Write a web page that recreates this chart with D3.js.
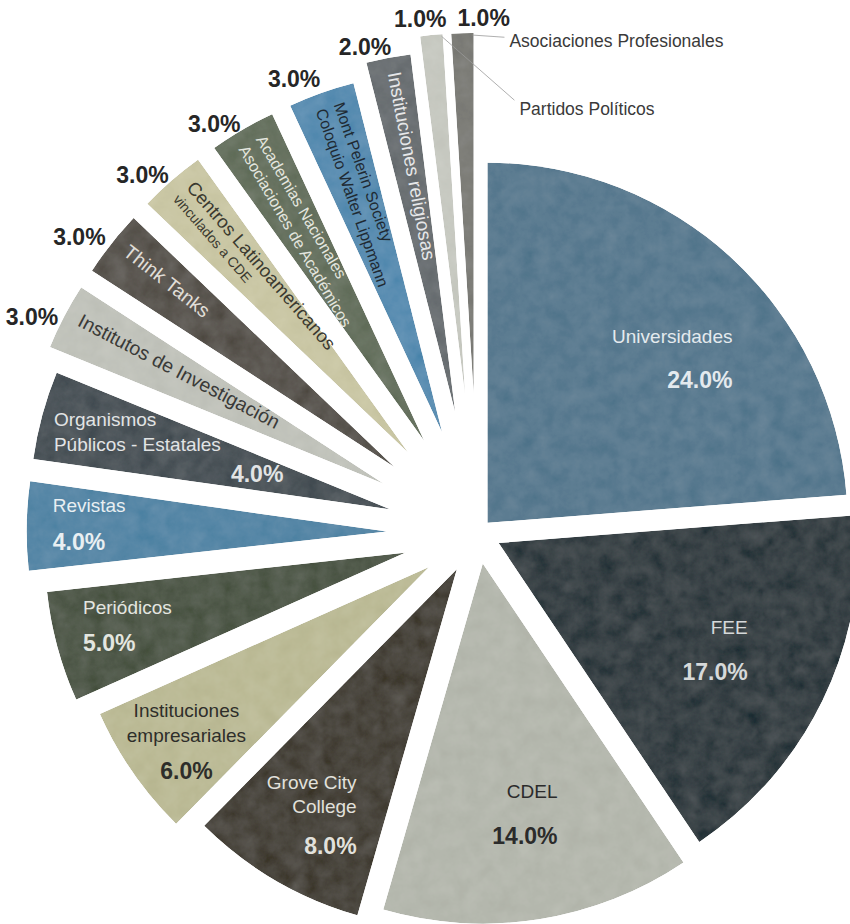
<!DOCTYPE html>
<html>
<head>
<meta charset="utf-8">
<script src="https://cdn.jsdelivr.net/npm/d3@7"></script>
<style>
  body { margin: 0; background: #fff; }
  svg { display: block; font-family: "Liberation Sans", Arial, Helvetica, sans-serif; }
</style>
</head>
<body>
<div id="chart"></div>
<script>
// data, clockwise from 12 o'clock
const categories = ["Universidades", "FEE", "CDEL", "Grove City College", "Instituciones empresariales",
  "Periódicos", "Revistas", "Organismos Públicos - Estatales", "Institutos de Investigación", "Think Tanks",
  "Centros Latinoamericanos vinculados a CDE", "Academias Nacionales Asociaciones de Académicos",
  "Mont Pelerin Society Coloquio Walter Lippmann", "Instituciones religiosas", "Partidos Políticos",
  "Asociaciones Profesionales"];
const values = [24, 17, 14, 8, 6, 5, 4, 4, 3, 3, 3, 3, 3, 2, 1, 1];
const labelLines = [["Universidades"], ["FEE"], ["CDEL"], ["Grove City", "College"], ["Instituciones", "empresariales"],
  ["Periódicos"], ["Revistas"], ["Organismos", "Públicos - Estatales"], ["Institutos de Investigación"], ["Think Tanks"],
  ["Centros Latinoamericanos", "vinculados a CDE"], ["Academias Nacionales", "Asociaciones de Académicos"],
  ["Mont Pelerin Society", "Coloquio Walter Lippmann"], ["Instituciones religiosas"], ["Partidos Políticos"],
  ["Asociaciones Profesionales"]];

const palette = ["#5c7c91", "#3a4347", "#b5b8ae", "#4b473f", "#bcbb97", "#525b4c", "#5888a7", "#4e565b",
  "#c1c3bb", "#5c5852", "#cac7a5", "#687361", "#5b8eb2", "#6c7174", "#c7c9c1", "#7d7d78"];
const textFill = ["#e4eaee", "#d6d9da", "#2b2b2b", "#e2e1dc", "#2e2e2a", "#e4e6e0", "#e9eff2", "#e2e4e5",
  "#3a3a38", "#e0ded8", "#3a392f", "#e4e6df", "#1f2a33", "#e6e7e8", "#333", "#333"];

const width = 850, height = 924;
const cx = 478, cy = 533, R = 360;

// small slices are pushed further out from the centre
const explode = d3.scaleLinear()
  .domain([1, 3, 6, 8, 14, 17, 24])
  .range([140, 107, 60, 42, 31, 23, 14]);

const svg = d3.select("#chart").append("svg")
  .attr("width", width)
  .attr("height", height);

// light concrete-like grain
const defs = svg.append("defs");
const f = defs.append("filter").attr("id", "tex")
  .attr("x", "-2%").attr("y", "-2%").attr("width", "104%").attr("height", "104%");
f.append("feTurbulence").attr("type", "fractalNoise").attr("baseFrequency", 0.06)
  .attr("numOctaves", 4).attr("seed", 11).attr("result", "noise");
f.append("feColorMatrix").attr("in", "noise").attr("type", "matrix")
  .attr("values", "0.33 0.33 0.33 0 0  0.33 0.33 0.33 0 0  0.33 0.33 0.33 0 0  0 0 0 0 1")
  .attr("result", "gray");
f.append("feComposite").attr("in", "SourceGraphic").attr("in2", "gray").attr("operator", "arithmetic")
  .attr("k1", 0).attr("k2", 1).attr("k3", 0.13).attr("k4", -0.065).attr("result", "mix");
f.append("feComposite").attr("in", "mix").attr("in2", "SourceAlpha").attr("operator", "in");

const rows = categories.map((c, i) => ({ name: c, value: values[i], lines: labelLines[i], i }));
const arcs = d3.pie().sort(null).value(d => d.value)(rows);
const arc = d3.arc().innerRadius(0).outerRadius(R);

arcs.forEach(a => {
  a.mid = (a.startAngle + a.endAngle) / 2;
  a.dir = [Math.sin(a.mid), -Math.cos(a.mid)];
  const d = explode(a.data.value);
  a.tip = [cx + d * a.dir[0], cy + d * a.dir[1]];
  a.outer = [a.tip[0] + R * a.dir[0], a.tip[1] + R * a.dir[1]];
});

svg.append("g")
  .selectAll("path")
  .data(arcs)
  .join("path")
  .attr("transform", a => `translate(${a.tip[0]},${a.tip[1]})`)
  .attr("d", arc)
  .attr("fill", (a, i) => palette[i])
  .attr("filter", "url(#tex)");

const fmt = v => v.toFixed(1) + "%";

// horizontal labels inside the big slices
const innerLayout = [
  { r: 240, dx: 82, dy: -10, anchor: "end", gap: 24, pgap: 43 },
  { r: 240, dx: 33, dy: -20, anchor: "end", gap: 24, pgap: 44 },
  { r: 250, dx: 36, dy: -19, anchor: "end", gap: 24, pgap: 44 },
  { r: 270, dx: 36, dy: -20, anchor: "end", gap: 24, pgap: 40 },
  { r: 290, dx: -4, dy: -22, anchor: "middle", gap: 25, pgap: 35 },
  { r: 290, dx: -42, dy: -21, anchor: "start", gap: 24, pgap: 35 },
  { r: 300, dx: -34, dy: -21, anchor: "start", gap: 24, pgap: 36 },
  { r: 290, dx: -56, dy: -14, anchor: "start", gap: 25, pgap: 30, pdx: 177 }
];

const inner = svg.append("g");
innerLayout.forEach((L, i) => {
  const a = arcs[i];
  const x = a.tip[0] + L.r * a.dir[0] + L.dx;
  const y0 = a.tip[1] + L.r * a.dir[1] + L.dy;
  a.data.lines.forEach((t, k) => {
    inner.append("text")
      .attr("x", x).attr("y", y0 + k * L.gap)
      .attr("text-anchor", L.anchor)
      .attr("dominant-baseline", "central")
      .attr("font-size", 19)
      .attr("fill", textFill[i])
      .text(t);
  });
  inner.append("text")
    .attr("x", x + (L.pdx || 0))
    .attr("y", y0 + (a.data.lines.length - 1) * L.gap + L.pgap)
    .attr("text-anchor", L.anchor)
    .attr("dominant-baseline", "central")
    .attr("font-size", 23)
    .attr("font-weight", "bold")
    .attr("fill", textFill[i])
    .text(fmt(a.data.value));
});

// rotated labels along the thin slices
const rotLayout = {
  8: { sizes: [19.5], off: [-5] },
  9: { sizes: [19.5], off: [-5] },
  10: { sizes: [18.5, 14], off: [-12, 7] },
  11: { sizes: [16, 16], off: [-12, 8] },
  12: { sizes: [16, 16], off: [-13, 6] },
  13: { sizes: [19], off: [-3] }
};
const rot = svg.append("g");
Object.keys(rotLayout).forEach(k => {
  const i = +k, a = arcs[i], L = rotLayout[k];
  const p = [a.tip[0] + 345 * a.dir[0], a.tip[1] + 345 * a.dir[1]];
  const deg = a.mid * 180 / Math.PI - 270;
  const g = rot.append("g").attr("transform", `translate(${p[0]},${p[1]}) rotate(${deg})`);
  a.data.lines.forEach((t, j) => {
    g.append("text")
      .attr("x", 0).attr("y", L.off[j])
      .attr("dominant-baseline", "central")
      .attr("font-size", L.sizes[j])
      .attr("fill", textFill[i])
      .text(t);
  });
});

// percentages outside the thin slices
const outerLayout = {
  8: { dx: -6, dy: 1 }, 9: { dx: -6, dy: -6 }, 10: { dx: -3, dy: -5 }, 11: { dx: -2, dy: -6 },
  12: { dx: -1, dy: -14 }, 13: { dx: 3, dy: -11 }, 14: { dx: 15, dy: -16 }, 15: { dx: -5, dy: -15, anchor: "start" }
};
const outer = svg.append("g");
Object.keys(outerLayout).forEach(k => {
  const a = arcs[+k], L = outerLayout[k];
  outer.append("text")
    .attr("x", a.outer[0] + L.dx).attr("y", a.outer[1] + L.dy)
    .attr("text-anchor", L.anchor || "end")
    .attr("dominant-baseline", "central")
    .attr("font-size", 23)
    .attr("font-weight", "bold")
    .attr("fill", "#262626")
    .text(fmt(a.data.value));
});

// leader lines for the two 1% slices
const leaders = [
  { i: 14, lx: 88, ly: 74 },
  { i: 15, lx: 47, ly: 8 }
];
const lead = svg.append("g");
leaders.forEach(L => {
  const a = arcs[L.i];
  const corner = [a.tip[0] + R * Math.sin(a.endAngle) - 1, a.tip[1] - R * Math.cos(a.endAngle) + 2];
  const tx = a.outer[0] + L.lx, ty = a.outer[1] + L.ly;
  lead.append("line")
    .attr("x1", corner[0]).attr("y1", corner[1])
    .attr("x2", tx - 5).attr("y2", L.i === 14 ? ty - 9 : ty - 4)
    .attr("stroke", "#9a9a9a").attr("stroke-width", 0.8);
  lead.append("text")
    .attr("x", tx).attr("y", ty)
    .attr("dominant-baseline", "central")
    .attr("font-size", 17.5)
    .attr("fill", "#3a3a3a")
    .text(a.data.lines[0]);
});
</script>
</body>
</html>
